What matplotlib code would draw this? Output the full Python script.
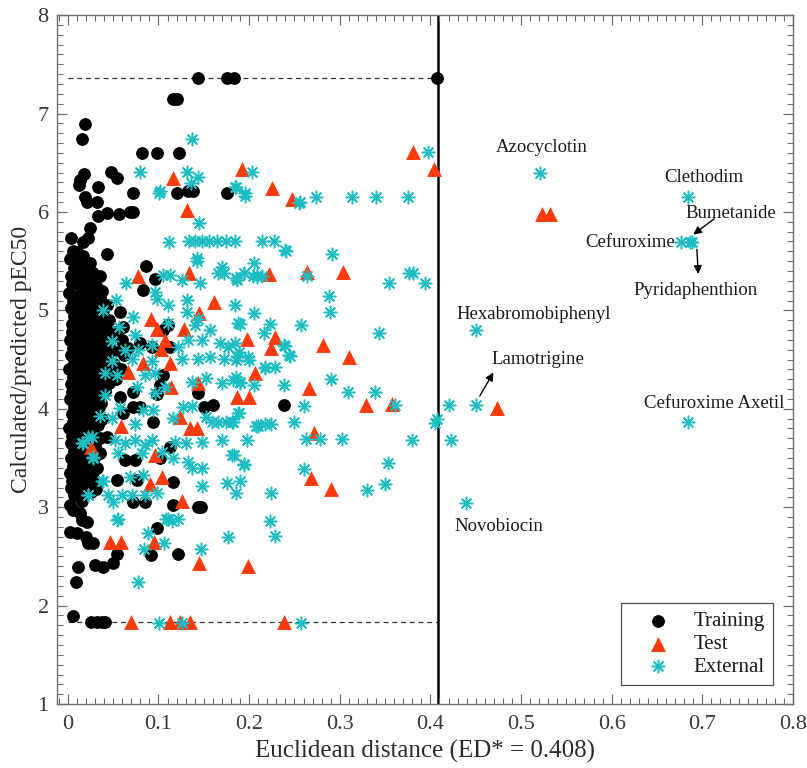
import matplotlib
matplotlib.use("Agg")
import matplotlib.pyplot as plt
from matplotlib.ticker import MultipleLocator, FuncFormatter

plt.rcParams['font.family'] = ['Liberation Serif', 'DejaVu Serif']

# Applicability-domain threshold and response bounds
ed_star = 0.408
y_upper = 7.36
y_lower = 1.83

# Training set: (Euclidean distance, pEC50)
train_x = [
    0.144, 0.176, 0.183, 0.4075, 0.116, 0.120, 0.0188, 0.0155,
    0.082, 0.0986, 0.123, 0.0177, 0.0133, 0.012, 0.0476, 0.054, 0.072, 0.033,
    0.032, 0.0188, 0.021, 0.120, 0.133, 0.138, 0.176,
    0.033, 0.043, 0.0565, 0.0687, 0.072, 0.0244, 0.022, 0.0166, 0.0033, 0.010, 0.043,
    0.086, 0.096, 0.083, 0.035, 0.043, 0.0576, 0.061, 0.110, 0.105, 0.093, 0.080,
    0.113, 0.105, 0.102, 0.098, 0.072, 0.058, 0.080, 0.072, 0.061, 0.094, 0.144,
    0.150, 0.160, 0.238, 0.043, 0.113, 0.102, 0.063, 0.074, 0.054, 0.076, 0.116,
    0.072, 0.085, 0.144, 0.147, 0.0986, 0.092, 0.121, 0.054, 0.050, 0.039, 0.030,
    0.011, 0.009, 0.0055, 0.0255, 0.032, 0.0376, 0.041, 0.002, 0.010, 0.020, 0.028,
    0.022, 0.116, 0.002, 0.013, 0.0155, 0.021,
    # dense low-distance cluster
    0.002, 0.004, 0.001, 0.003, 0.005, 0.002, 0.004, 0.001, 0.003, 0.002, 0.005,
    0.001, 0.003, 0.004, 0.002, 0.003,
    0.010, 0.009, 0.011, 0.008, 0.012, 0.010, 0.009, 0.011, 0.010, 0.008, 0.012,
    0.009, 0.011, 0.010, 0.009, 0.012,
    0.017, 0.018, 0.016, 0.019, 0.017, 0.015, 0.018, 0.016, 0.017, 0.019, 0.016,
    0.018, 0.017, 0.015, 0.018, 0.017, 0.016,
    0.024, 0.025, 0.023, 0.026, 0.024, 0.022, 0.025, 0.024, 0.023, 0.026, 0.024,
    0.022, 0.025, 0.023, 0.024, 0.026,
    0.031, 0.032, 0.030, 0.033, 0.031, 0.029, 0.032, 0.030, 0.031, 0.033, 0.030,
    0.032, 0.031,
    0.038, 0.039, 0.037, 0.040, 0.038, 0.036, 0.039, 0.037, 0.038, 0.036,
    0.045, 0.046, 0.044, 0.047, 0.045,
    0.052, 0.054, 0.051, 0.053,
    0.006, 0.007, 0.005, 0.006, 0.007, 0.005, 0.006, 0.007, 0.006, 0.005, 0.007,
    0.006, 0.005, 0.007, 0.006, 0.005, 0.007, 0.006,
    0.013, 0.014, 0.012, 0.013, 0.014, 0.012, 0.013, 0.014, 0.013, 0.012, 0.014,
    0.013, 0.012, 0.014, 0.013, 0.012,
    0.020, 0.021, 0.019, 0.020, 0.021, 0.019, 0.020, 0.021, 0.020, 0.019, 0.021,
    0.020, 0.019, 0.021, 0.020,
    0.028, 0.027, 0.029, 0.028, 0.027, 0.029, 0.028, 0.027, 0.029, 0.028, 0.027,
    0.029, 0.028,
    0.035, 0.034, 0.036, 0.035, 0.034, 0.036, 0.035, 0.034, 0.035,
    0.042, 0.041, 0.043, 0.042, 0.041,
    0.060, 0.062, 0.059, 0.066,
]
train_y = [
    7.36, 7.36, 7.36, 7.36, 7.15, 7.15, 6.89, 6.74,
    6.60, 6.60, 6.60, 6.39, 6.32, 6.27, 6.41, 6.35, 6.19, 6.25,
    6.10, 6.15, 6.10, 6.19, 6.21, 6.21, 6.19,
    5.96, 5.99, 5.98, 6.00, 6.00, 5.84, 5.74, 5.69, 5.74, 5.59, 5.57,
    5.45, 5.32, 5.21, 5.13, 5.05, 4.98, 4.83, 4.85, 4.80, 4.63, 4.67,
    4.63, 4.34, 4.24, 4.15, 4.17, 4.12, 4.02, 4.02, 3.96, 3.87, 4.16,
    4.02, 4.04, 4.04, 3.71, 3.61, 3.50, 3.48, 3.48, 3.28, 3.28, 3.26,
    3.05, 3.05, 3.00, 3.00, 2.79, 2.51, 2.52, 2.52, 2.43, 2.39, 2.41,
    2.39, 2.24, 1.89, 1.83, 1.83, 1.83, 1.83, 2.75, 2.74, 2.70, 2.64,
    2.64, 3.02, 3.02, 2.94, 2.87, 2.85,
    5.52, 5.35, 5.18, 5.02, 4.86, 4.70, 4.55, 4.40, 4.25, 4.10, 3.95,
    3.80, 3.65, 3.50, 3.35, 3.20,
    5.45, 5.28, 5.10, 4.94, 4.78, 4.62, 4.47, 4.32, 4.17, 4.02, 3.87,
    3.72, 3.57, 3.42, 3.27, 3.12,
    5.55, 5.38, 5.22, 5.05, 4.90, 4.74, 4.58, 4.43, 4.28, 4.13, 3.98,
    3.83, 3.68, 3.53, 3.38, 3.22, 3.06,
    5.48, 5.30, 5.14, 4.97, 4.82, 4.66, 4.50, 4.36, 4.20, 4.05, 3.90,
    3.76, 3.60, 3.45, 3.30, 3.15,
    5.25, 5.08, 4.92, 4.76, 4.60, 4.45, 4.30, 4.14, 3.99, 3.84, 3.62,
    3.40, 3.18,
    5.20, 5.00, 4.85, 4.68, 4.52, 4.37, 4.22, 4.06, 3.90, 3.55,
    4.90, 4.72, 4.56, 4.40, 4.26,
    4.78, 4.60, 4.45, 4.30,
    5.60, 5.43, 5.27, 5.10, 4.94, 4.78, 4.62, 4.47, 4.32, 4.17, 4.02,
    3.87, 3.72, 3.57, 3.42, 3.27, 3.12, 2.97,
    5.50, 5.33, 5.16, 5.00, 4.84, 4.68, 4.52, 4.37, 4.22, 4.07, 3.92,
    3.77, 3.62, 3.47, 3.32, 3.17,
    5.42, 5.26, 5.09, 4.93, 4.77, 4.62, 4.46, 4.32, 4.16, 4.00, 3.85,
    3.70, 3.55, 3.40, 3.25,
    5.38, 5.20, 5.03, 4.87, 4.71, 4.55, 4.40, 4.25, 4.09, 3.94, 3.79,
    3.50, 3.30,
    5.35, 4.95, 4.79, 4.63, 4.48, 4.33, 4.18, 4.02, 3.70,
    4.82, 4.64, 4.48, 4.33, 4.18,
    4.70, 4.55, 4.40, 4.62,
]

# Test set
test_x = [
    0.381, 0.404, 0.523, 0.532, 0.116, 0.132, 0.192, 0.225, 0.247,
    0.2215, 0.2636, 0.3035, 0.198, 0.228, 0.2237, 0.281, 0.310, 0.206,
    0.266, 0.187, 0.200, 0.329, 0.358, 0.272, 0.268, 0.290, 0.473,
    0.0775, 0.134, 0.1617, 0.145, 0.092, 0.0986, 0.128, 0.107, 0.103,
    0.083, 0.113, 0.066, 0.114, 0.144, 0.0587, 0.0255, 0.124, 0.135,
    0.143, 0.096, 0.104, 0.091, 0.126, 0.0465, 0.0587, 0.095, 0.145,
    0.199, 0.0698, 0.113, 0.124, 0.135, 0.238,
]
test_y = [
    6.61, 6.44, 5.98, 5.98, 6.34, 6.02, 6.44, 6.24, 6.13,
    5.37, 5.39, 5.39, 4.71, 4.73, 4.62, 4.65, 4.53, 4.36,
    4.21, 4.12, 4.12, 4.04, 4.05, 3.75, 3.30, 3.18, 4.01,
    5.35, 5.38, 5.08, 4.97, 4.91, 4.81, 4.81, 4.70, 4.61,
    4.47, 4.47, 4.37, 4.22, 4.26, 3.82, 3.61, 3.92, 3.80,
    3.80, 3.53, 3.31, 3.24, 3.06, 2.65, 2.65, 2.65, 2.43,
    2.40, 1.83, 1.83, 1.83, 1.83, 1.83,
]

# External validation set
ext_x = [
    0.3976, 0.5205, 0.6844, 0.677, 0.686, 0.689, 0.4507, 0.4507, 0.421,
    0.684, 0.4396, 0.423, 0.405, 0.407,
    0.256, 0.2735, 0.3134, 0.340, 0.3754, 0.240, 0.291, 0.3765, 0.381, 0.354,
    0.394, 0.288, 0.289, 0.257, 0.343, 0.240, 0.245, 0.290, 0.309, 0.339,
    0.238, 0.261, 0.361, 0.249, 0.2625, 0.278, 0.302, 0.380, 0.353, 0.261,
    0.184, 0.205, 0.190, 0.2226, 0.216, 0.184, 0.238, 0.244, 0.189, 0.185,
    0.1995, 0.218, 0.229, 0.185, 0.190, 0.205, 0.189, 0.1815, 0.208, 0.218,
    0.224, 0.198, 0.183, 0.194, 0.190, 0.350, 0.330, 0.185, 0.224, 0.2226, 0.229,
    0.2027, 0.184, 0.195, 0.195, 0.2547, 0.184, 0.2137, 0.227, 0.2403, 0.205,
    0.1938, 0.186, 0.204, 0.209, 0.214, 0.2636,
    0.137, 0.080, 0.132, 0.144, 0.136, 0.1008, 0.102, 0.185, 0.145, 0.112,
    0.134, 0.1406, 0.1484, 0.156, 0.165, 0.175, 0.142,
    0.143, 0.1705, 0.166, 0.172, 0.209, 0.113, 0.105, 0.126, 0.146, 0.064,
    0.187, 0.194, 0.096, 0.0986, 0.053, 0.131, 0.110, 0.039, 0.131, 0.072,
    0.144, 0.0565, 0.111, 0.140, 0.157, 0.188, 0.074, 0.0487, 0.133, 0.148,
    0.168, 0.177, 0.063, 0.077, 0.093, 0.121, 0.0487, 0.071, 0.093, 0.126,
    0.144, 0.157, 0.172, 0.187, 0.199, 0.217, 0.041, 0.054, 0.085, 0.096,
    0.137, 0.152, 0.170, 0.182, 0.190, 0.041, 0.076, 0.096, 0.107,
    0.0576, 0.083, 0.035, 0.049, 0.074, 0.094, 0.116, 0.127, 0.137, 0.152,
    0.159, 0.166, 0.174, 0.182, 0.188, 0.210, 0.0166, 0.0266, 0.052, 0.063,
    0.074, 0.085, 0.093, 0.1185, 0.130, 0.148, 0.1705, 0.0277, 0.0554, 0.082,
    0.104, 0.116, 0.133, 0.137, 0.148, 0.1816, 0.194, 0.039, 0.0687, 0.083,
    0.148, 0.176, 0.022, 0.044, 0.060, 0.071, 0.085, 0.098, 0.0554, 0.110,
    0.121, 0.177, 0.0886,
    0.050, 0.054, 0.084, 0.1085, 0.115, 0.106, 0.147, 0.0775, 0.1008, 0.126,
    0.257, 0.0155, 0.022, 0.028, 0.0376, 0.022,
]
ext_y = [
    6.61, 6.40, 6.15, 5.69, 5.69, 5.69, 4.80, 4.04, 4.04,
    3.87, 3.04, 3.68, 3.86, 3.90,
    6.10, 6.15, 6.15, 6.15, 6.15, 5.61, 5.57, 5.38, 5.38, 5.28,
    5.28, 5.15, 4.98, 4.85, 4.77, 4.64, 4.54, 4.30, 4.17, 4.17,
    4.24, 4.03, 4.04, 3.87, 3.69, 3.69, 3.69, 3.68, 3.45, 3.39,
    5.05, 4.97, 4.86, 4.86, 4.77, 4.67, 4.65, 4.55, 4.58, 4.50,
    4.50, 4.42, 4.42, 4.32, 4.27, 4.24, 3.96, 3.87, 3.82, 3.85,
    3.85, 3.68, 3.53, 3.44, 3.27, 3.24, 3.17, 3.14, 3.14, 2.86, 2.71,
    6.41, 6.25, 6.19, 6.16, 6.09, 5.70, 5.70, 5.70, 5.60, 5.48,
    5.38, 5.33, 5.35, 5.36, 5.35, 5.35,
    6.74, 6.41, 6.41, 6.36, 6.29, 6.19, 6.21, 6.25, 5.89, 5.69,
    5.70, 5.70, 5.70, 5.70, 5.70, 5.70, 5.53,
    5.50, 5.44, 5.38, 5.38, 5.34, 5.36, 5.36, 5.31, 5.28, 5.28,
    5.31, 5.38, 5.19, 5.12, 5.11, 5.11, 5.05, 5.00, 4.98, 4.93,
    4.91, 4.83, 4.87, 4.85, 4.80, 4.87, 4.75, 4.69, 4.70, 4.70,
    4.67, 4.63, 4.60, 4.60, 4.65, 4.63, 4.49, 4.51, 4.49, 4.51,
    4.51, 4.53, 4.51, 4.53, 4.53, 4.41, 4.36, 4.34, 4.34, 4.36,
    4.27, 4.31, 4.26, 4.29, 4.26, 4.14, 4.22, 4.16, 4.22,
    4.01, 3.99, 3.93, 3.91, 3.85, 3.99, 3.91, 4.02, 4.03, 3.92,
    3.87, 3.87, 3.87, 3.87, 3.96, 3.83, 3.65, 3.71, 3.68, 3.65,
    3.68, 3.63, 3.68, 3.66, 3.65, 3.66, 3.68, 3.50, 3.55, 3.55,
    3.56, 3.50, 3.46, 3.40, 3.40, 3.53, 3.43, 3.27, 3.31, 3.33,
    3.22, 3.25, 3.12, 3.12, 3.12, 3.12, 3.12, 3.14, 2.88, 2.88,
    2.88, 2.70, 2.74,
    3.05, 2.87, 2.58, 2.88, 2.86, 2.64, 2.58, 2.24, 1.82, 1.82,
    1.82, 3.65, 3.71, 3.51, 3.27, 3.12,
]

# Named compounds outside the domain
labels = ["Azocyclotin", "Clethodim", "Hexabromobiphenyl", "Cefuroxime Axetil",
          "Novobiocin", "Cefuroxime", "Bumetanide", "Pyridaphenthion", "Lamotrigine"]
label_x = [0.5227, 0.702, 0.514, 0.713, 0.476, 0.670, 0.731, 0.693, 0.467]
label_y = [6.65, 6.35, 4.96, 4.05, 2.80, 5.69, 5.98, 5.20, 4.505]
label_ha = ["center", "center", "center", "center", "center", "right",
            "center", "center", "left"]

RED = "#FF3A0A"
CYAN = "#1CBEC4"
GRAY = "#6E6E6E"
TXT = "#1a1a1a"

fig = plt.figure(figsize=(8.07, 7.68), dpi=100)
ax = fig.add_axes([0.0706, 0.0833, 0.912, 0.897])

# Bounds of the applicability domain
ax.plot([0, ed_star], [y_upper, y_upper], ls=(0, (4, 3)), color="#333333", lw=0.9, zorder=1)
ax.plot([0, ed_star], [y_lower, y_lower], ls=(0, (4, 3)), color="#333333", lw=0.9, zorder=1)
ax.axvline(ed_star, color="black", lw=1.8, zorder=1)

ax.scatter(train_x, train_y, s=85, marker="o", color="black", linewidths=0,
           label="Training", zorder=3)
ax.scatter(test_x, test_y, s=115, marker="^", color=RED, linewidths=0,
           label="Test", zorder=4)
ax.scatter(ext_x, ext_y, s=80, marker=(8, 2, 0), color=CYAN, linewidths=1.1,
           label="External", zorder=5)

for t, lx, ly, ha in zip(labels, label_x, label_y, label_ha):
    ax.text(lx, ly, t, ha=ha, va="center", fontsize=13.5, color=TXT, zorder=6)

# Pointer arrows for crowded labels
arrow = dict(arrowstyle="-|>", color="black", lw=1.0, mutation_scale=12,
             shrinkA=0, shrinkB=0)
ax.annotate("", xy=(0.4695, 4.37), xytext=(0.4545, 4.13), arrowprops=arrow)
ax.annotate("", xy=(0.690, 5.77), xytext=(0.713, 5.93), arrowprops=arrow)
ax.annotate("", xy=(0.6955, 5.37), xytext=(0.694, 5.62), arrowprops=arrow)

ax.set_xlim(-0.012, 0.8)
ax.set_ylim(1, 8)
ax.xaxis.set_major_locator(MultipleLocator(0.1))
ax.xaxis.set_minor_locator(MultipleLocator(0.01))
ax.yaxis.set_major_locator(MultipleLocator(1))
ax.yaxis.set_minor_locator(MultipleLocator(0.1))
ax.xaxis.set_major_formatter(FuncFormatter(
    lambda v, p: "0" if abs(v) < 1e-9 else f"{v:.1f}"))
ax.tick_params(which="both", direction="in", top=True, right=True, colors=GRAY,
               labelcolor="#3a3a3a", labelsize=16)
ax.tick_params(which="major", length=7, width=0.9)
ax.tick_params(which="minor", length=4, width=0.8)
ax.tick_params(axis="x", which="major", pad=8)
ax.tick_params(axis="y", which="major", pad=6)
for s in ax.spines.values():
    s.set_color(GRAY)
    s.set_linewidth(1.0)

ax.set_xlabel("Euclidean distance (ED* = 0.408)", fontsize=18, color="#2a2a2a", labelpad=4)
ax.set_ylabel("Calculated/predicted pEC50", fontsize=17, color="#2a2a2a", labelpad=4)

leg = ax.legend(loc="lower right", bbox_to_anchor=(0.9728, 0.0276), borderaxespad=0,
                fontsize=15, frameon=True, fancybox=False, edgecolor="#222222",
                handletextpad=0.35, borderpad=0.4, labelspacing=0.15, handlelength=2.7)
leg.get_frame().set_linewidth(0.9)
for t in leg.get_texts():
    t.set_color(TXT)

fig.savefig("out.png", dpi=100)
